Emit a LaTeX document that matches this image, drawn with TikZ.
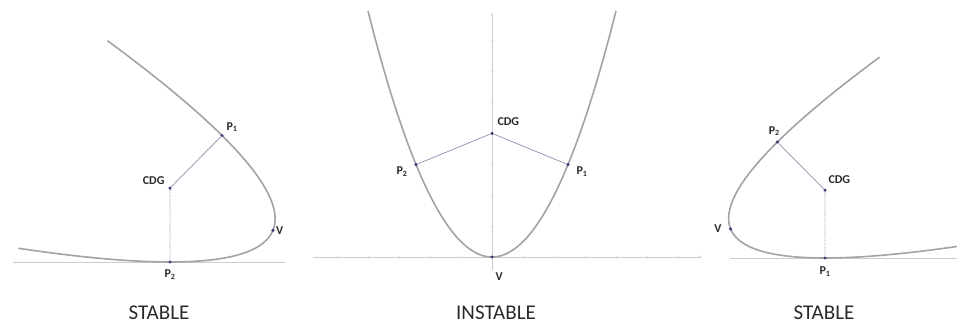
\documentclass[tikz,border=0pt]{standalone}
\usepackage{fontspec}
\setmainfont{Carlito}
\usepackage{xcolor}
\usepackage{tikz}
\usetikzlibrary{arrows.meta,positioning,calc}
\definecolor{curvegray}{HTML}{A2A2A8}
\definecolor{axisgray}{HTML}{CBCBD4}
\definecolor{tickgray}{HTML}{DCDCE4}
\definecolor{linkblue}{HTML}{8E8EB0}
\definecolor{dotblue}{HTML}{3C3C78}
\definecolor{textgray}{HTML}{2A2A2A}
\tikzset{
  curve/.style={draw=curvegray,line width=1.6pt},
  axis/.style={draw=axisgray,line width=.9pt},
  tick/.style={draw=tickgray,line width=.6pt},
  link/.style={draw=linkblue,line width=.7pt},
  dotlink/.style={draw=linkblue,line width=.9pt,densely dotted},
  pt/.style={circle,fill=dotblue,inner sep=0pt,minimum size=3.4pt},
  lbl/.style={inner sep=0pt,font=\fontsize{12}{14}\selectfont\bfseries,text=textgray},
  title/.style={inner sep=0pt,font=\fontsize{21}{25}\selectfont,text=textgray}
}

\begin{document}
\begin{tikzpicture}[x=1pt,y=1pt]
\useasboundingbox (0,0) rectangle (957,325);

% left: stable
\draw[axis] (13,63) -- (285,63);
\begin{scope}[shift={(170,63)},rotate=157.65,scale=.9,shift={(-92.42,-76)}]
\draw[curve] plot[domain=-125:126,samples=80,smooth] ({0.016*\x*\x},\x);
\node[pt] (vL) at (0,0) {};
\node[pt] (p1L) at (92.42,-76) {};
\node[pt] (p2L) at (92.42,76) {};
\node[pt] (cdgL) at (123.67,0) {};
\end{scope}
\draw[link] (cdgL) -- (p1L);
\draw[dotlink] (cdgL) -- (p2L);
\node[lbl,above right=2pt and 3pt of p1L] (tp1L) {P\textsubscript{1}};
\node[lbl,above left=2pt and 4pt of cdgL] (tcdgL) {CDG};
\node[lbl,right=1pt of vL] (tvL) {V};
\node[lbl,below=6pt of p2L] (tp2L) {P\textsubscript{2}};
\node[title] (stabL) at (159,12.5) {STABLE};

% middle: instable
\draw[axis,-{Stealth[length=3pt,width=2.5pt]}] (313,68) -- (702,68);
\draw[axis,-{Stealth[length=3pt,width=2.5pt]}] (492,55) -- (492,312);
\foreach \k in {-5,...,-1,1,2,...,6}
  \draw[tick] ({492+31*\k},66.5) -- ({492+31*\k},69.5);
\foreach \k in {1,...,7}
  \draw[tick] (490.5,{68+31*\k}) -- (493.5,{68+31*\k});
\begin{scope}[shift={(492,68)},rotate=90]
\draw[curve] plot[domain=-124:124,samples=80,smooth] ({0.016*\x*\x},\x);
\node[pt] (vM) at (0,0) {};
\node[pt] (p1M) at (92.42,-76) {};
\node[pt] (p2M) at (92.42,76) {};
\node[pt] (cdgM) at (123.67,0) {};
\end{scope}
\draw[link] (cdgM) -- (p1M);
\draw[link] (cdgM) -- (p2M);
\node[lbl,above right=6pt and 4pt of cdgM] (tcdgM) {CDG};
\node[lbl,below left=1pt and 7pt of p2M] (tp2M) {P\textsubscript{2}};
\node[lbl,below right=1pt and 7pt of p1M] (tp1M) {P\textsubscript{1}};
\node[lbl,below right=14pt and 2pt of vM] (tvM) {V};
\node[title] (instab) at (496,12) {INSTABLE};

% right: stable
\draw[axis] (730,67) -- (957,67);
\begin{scope}[shift={(825,67)},rotate=22.35,scale=.825,shift={(-92.42,76)}]
\draw[curve] plot[domain=-124:124,samples=80,smooth] ({0.016*\x*\x},\x);
\node[pt] (vR) at (0,0) {};
\node[pt] (p1R) at (92.42,-76) {};
\node[pt] (p2R) at (92.42,76) {};
\node[pt] (cdgR) at (123.67,0) {};
\end{scope}
\draw[link] (cdgR) -- (p2R);
\draw[dotlink] (cdgR) -- (p1R);
\node[lbl,above=4pt of p2R,xshift=-3pt] (tp2R) {P\textsubscript{2}};
\node[lbl,above right=5pt and 2pt of cdgR] (tcdgR) {CDG};
\node[lbl,left=7pt of vR] (tvR) {V};
\node[lbl,below=7pt of p1R] (tp1R) {P\textsubscript{1}};
\node[title] (stabR) at (824,12.5) {STABLE};
\end{tikzpicture}
\end{document}
